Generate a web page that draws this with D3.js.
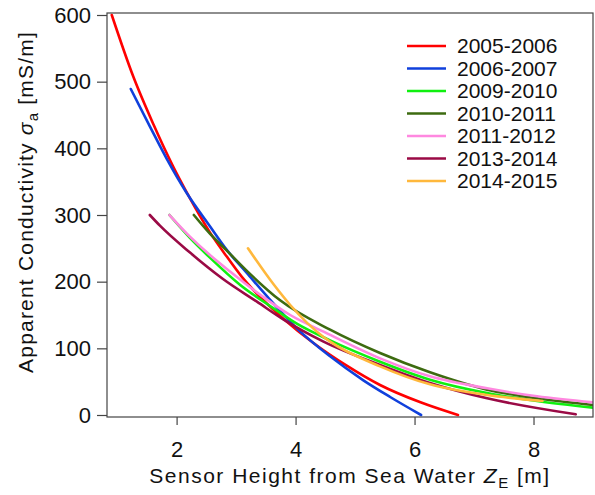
<!DOCTYPE html>
<html>
<head>
<meta charset="utf-8">
<script src="https://cdn.jsdelivr.net/npm/d3@7"></script>
<style>
body{margin:0;background:#fff}
text{font-family:"Liberation Sans",Arial,sans-serif;fill:#111}
</style>
</head>
<body>
<svg id="chart" width="595" height="495"></svg>
<script>
var years = ["2005-2006","2006-2007","2009-2010","2010-2011","2011-2012","2013-2014","2014-2015"];
var colors = ["#ff0000","#1040dc","#10f010","#3d6b10","#ff88e0","#9a0a45","#ffb83c"];

// [Z_E (m), sigma_a (mS/m)]
var s2005 = [[0.91,600],[1.27,508],[1.61,436],[1.94,373],[2.17,334],[2.56,274],[2.84,238],[3.09,208],[3.35,182],[3.80,144],[4.30,108],[4.86,74],[5.42,45],[6.10,19],[6.73,0]];
var s2006 = [[1.23,489],[1.55,433],[1.83,385],[2.17,333],[2.56,283],[2.84,248],[3.18,213],[3.55,175],[4.02,130],[4.58,88],[5.14,52],[5.59,27],[6.11,0]];
var s2009 = [[1.88,300],[2.22,266],[2.56,236],[3.07,195],[3.63,160],[4.02,137],[4.58,112],[5.42,80],[6.26,53],[7.22,33],[8.06,21],[9.0,11]];
var s2010 = [[2.29,300],[2.56,272],[2.84,247],[3.23,212],[3.74,172],[4.58,128],[5.42,93],[6.26,64],[7.22,38],[8.06,25],[9.0,15]];
var s2011 = [[1.88,300],[2.22,268],[2.56,240],[2.93,213],[3.35,184],[3.91,150],[4.47,125],[5.42,85],[6.26,58],[7.22,40],[8.06,28],[9.0,19]];
var s2013 = [[1.55,300],[1.72,284],[2.22,244],[2.78,204],[3.35,170],[3.80,143],[4.47,110],[5.42,75],[6.26,48],[7.22,25],[8.71,1]];
var s2014 = [[3.20,250],[3.63,196],[3.91,165],[4.47,117],[4.58,110],[5.42,73],[6.26,46],[7.22,30],[8.15,21]];
var series = [s2005,s2006,s2009,s2010,s2011,s2013,s2014];

var xTicks = [2,4,6,8];
var yTicks = [0,100,200,300,400,500,600];

var svg = d3.select("#chart");
var plotL = 107, plotR = 593, plotT = 13, plotB = 417;

var x = d3.scaleLinear().domain([0.83, 9.0]).range([plotL, plotR]);
var y = d3.scaleLinear().domain([-3, 603]).range([plotB, plotT]);

svg.append("clipPath").attr("id","clip")
	.append("rect").attr("x",plotL).attr("y",plotT).attr("width",plotR-plotL).attr("height",plotB-plotT);

var line = d3.line()
	.x(d => x(d[0]))
	.y(d => y(d[1]))
	.curve(d3.curveMonotoneX);

var plot = svg.append("g").attr("clip-path","url(#clip)");
for(var i=0;i<series.length;i++){
	plot.append("path")
		.attr("d", line(series[i]))
		.attr("fill","none")
		.attr("stroke", colors[i])
		.attr("stroke-width", 2.6)
		.attr("stroke-linecap","round");
}

// frame
svg.append("rect")
	.attr("x",plotL).attr("y",plotT).attr("width",plotR-plotL).attr("height",plotB-plotT)
	.attr("fill","none").attr("stroke","#444").attr("stroke-width",1.2);

var yAxis = svg.append("g")
	.attr("transform","translate("+plotL+",0)")
	.call(d3.axisLeft(y).tickValues(yTicks).tickSize(10).tickPadding(6));
var xAxis = svg.append("g")
	.attr("transform","translate(0,"+plotB+")")
	.call(d3.axisBottom(x).tickValues(xTicks).tickSize(8).tickPadding(16));

[yAxis,xAxis].forEach(function(a){
	a.select(".domain").remove();
	a.selectAll("line").attr("stroke","#444").attr("stroke-width",1.2);
	a.selectAll("text").style("font-size","22px").attr("fill","#111");
});

// axis titles
var yl = svg.append("text")
	.attr("transform","translate(33,202) rotate(-90)")
	.attr("text-anchor","middle")
	.style("font-size","21px")
	.style("letter-spacing","1.2px");
yl.append("tspan").text("Apparent Conductivity ");
yl.append("tspan").style("font-style","italic").text("\u03c3");
yl.append("tspan").attr("dy",5).style("font-size","15px").text("a");
yl.append("tspan").attr("dy",-5).text(" [mS/m]");

var xl = svg.append("text")
	.attr("x",(plotL+plotR)/2).attr("y",483)
	.attr("text-anchor","middle")
	.style("font-size","21px")
	.style("letter-spacing","1.5px");
xl.append("tspan").text("Sensor Height from Sea Water ");
xl.append("tspan").style("font-style","italic").text("Z");
xl.append("tspan").attr("dy",5).style("font-size","15px").text("E");
xl.append("tspan").attr("dy",-5).text(" [m]");

// legend
var legend = svg.append("g");
for(var i=0;i<years.length;i++){
	var ly = 46 + i*22.5;
	legend.append("line")
		.attr("x1",407).attr("x2",446).attr("y1",ly).attr("y2",ly)
		.attr("stroke",colors[i]).attr("stroke-width",2.6);
	legend.append("text")
		.attr("x",457).attr("y",ly).attr("dy","0.35em")
		.style("font-size","21px")
		.text(years[i]);
}
</script>
</body>
</html>
